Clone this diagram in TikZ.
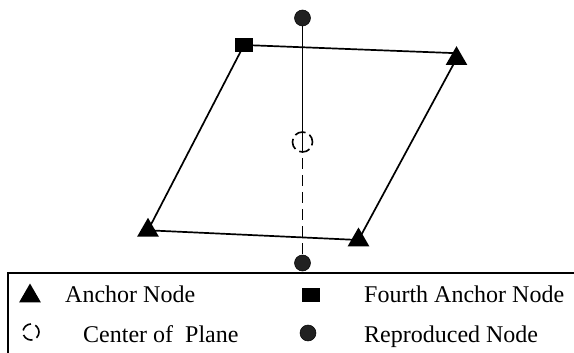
\documentclass[tikz,border=0pt]{standalone}
\usepackage{fontspec}
\setmainfont{Liberation Serif}
\usetikzlibrary{shapes.geometric,backgrounds}
\begin{document}
\begin{tikzpicture}[x=1pt,y=-1pt,
  tri/.style={regular polygon, regular polygon sides=3, fill=black, draw=none, minimum size=25pt, inner sep=0pt},
  sq/.style={rectangle, fill=black, draw=none, minimum width=18pt, minimum height=14pt, inner sep=0pt},
  dot/.style={circle, fill=black!87, draw=black, line width=0.5pt, minimum size=16pt, inner sep=0pt},
  ctr/.style={circle, draw=black, line width=1.6pt, dash pattern=on 11pt off 4.5pt, dash phase=3pt, minimum size=#1, inner sep=0pt},
  ctr/.default=20pt,
  edgeline/.style={line width=1.7pt},
  lbl/.style={anchor=base west, inner sep=0pt, font=\fontsize{24}{28}\selectfont}]
\useasboundingbox (0,0) rectangle (574,353);
% plane nodes
\node[sq] (S) at (244,45) {};
\node[tri] (TR) at (456.5,58.7) {};
\node[tri] (BL) at (148,230.3) {};
\node[tri] (BR) at (358.5,240) {};
\node[dot] (T) at (302.5,18) {};
\node[dot] (B) at (302.5,263) {};
\node[ctr] (C) at (302.5,142) {};
\coordinate (Cb) at (302.5,152);
\begin{scope}[on background layer]
  \draw[edgeline] (S.center) -- ([yshift=5.5pt]TR.center);
  \draw[edgeline] (S.center) -- (BL.center);
  \draw[edgeline] (BL.center) -- (BR.center);
  \draw[edgeline] (TR.center) -- (BR.center);
  \draw[edgeline] (T.center) -- (Cb);
  \draw[edgeline, dash pattern=on 11pt off 6pt] ([yshift=-6pt]Cb) -- (B.center);
\end{scope}
% legend
\draw[line width=1.6pt] (580,273) -- (8,273) -- (8,360);
\node[tri] (LA) at (30,296) {};
\node[lbl] (LAt) at (65,302) {Anchor Node};
\node[sq] (LS) at (311,295) {};
\node[lbl] (LSt) at (364,302) {Fourth Anchor Node};
\node[ctr=16pt] (LC) at (31,332) {};
\node[lbl] (LCt) at (83,342) {Center of\ \ Plane};
\node[dot] (LD) at (308,333) {};
\node[lbl] (LDt) at (364,342) {Reproduced Node};
\end{tikzpicture}
\end{document}
